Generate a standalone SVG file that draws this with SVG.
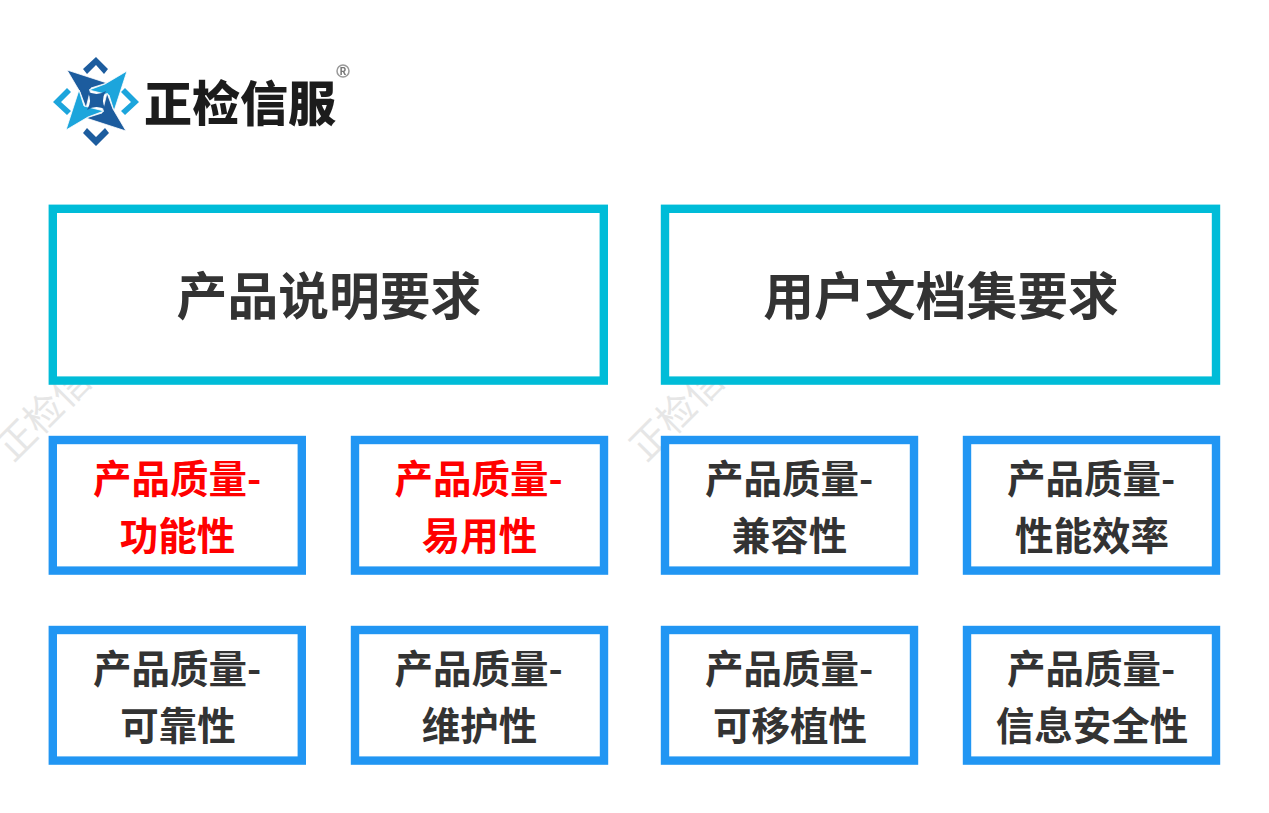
<svg xmlns="http://www.w3.org/2000/svg" width="1269" height="813" viewBox="0 0 1269 813">
<style>
text{font-family:"Noto Sans CJK SC","Noto Sans",sans-serif;font-weight:700;text-anchor:middle;fill:#333}
.big rect{fill:#fff;stroke:#00bcd8;stroke-width:8.4}
.big text{font-size:50.8px}
.small rect{fill:#fff;stroke:#2196f3;stroke-width:8.4}
.small text{font-size:38.5px}
.small text.red{fill:#f00}
.wm{font-size:38px;font-weight:400;fill:#e6e6e6;text-anchor:start}
.dk{fill:#1f5c9e}.lt{fill:#1ea5dc}
.bl{stroke:#fff;stroke-width:.8}
</style>
<defs>
<filter id="soft" x="-5%" y="-5%" width="110%" height="110%"><feGaussianBlur stdDeviation="0.7"/></filter>
<path id="blade" d="M67 70L107 83 91 88 86 108 80 92Z"/>
</defs>
<rect width="1269" height="813" fill="#fff"/>
<g id="logo">
<g id="logo-mark" filter="url(#soft)">
<path class="dk" d="M96 57L108 69 104 74 96 65 87 74 83 69Z"/>
<path class="dk" d="M96 146L83 133 87 128 96 137 105 128 109 133Z"/>
<path class="lt" d="M53 102L67 88 71 92 61 102 71 111 67 115Z"/>
<path class="lt" d="M139 102L125 88 121 92 131 102 121 111 125 115Z"/>
<use href="#blade" class="dk bl"/>
<use href="#blade" class="lt bl" transform="rotate(90 96.5 100.5)"/>
<use href="#blade" class="dk bl" transform="rotate(180 96.5 100.5)"/>
<use href="#blade" class="lt bl" transform="rotate(270 96.5 100.5)"/>
<path class="dk" d="M87 91Q96.500 97 106 91 100 100.500 106 110 96.500 104 87 110 93 100.500 87 91Z"/>
</g>
<g filter="url(#soft)">
<text x="240" y="121" style="font-size:48px;font-weight:900;fill:#1c1c1c" textLength="192" lengthAdjust="spacingAndGlyphs">正检信服</text>
<circle cx="343" cy="71" r="6" fill="#fff" stroke="#999" stroke-width="1.5"/>
<text x="343" y="75" style="font-size:10px;fill:#777">R</text>
</g>
</g>
<g id="watermarks">
<text class="wm" transform="translate(13 463) rotate(-45)">正检信</text>
<text class="wm" transform="translate(646 463) rotate(-45)">正检信</text>
</g>
<g id="header-left" class="big"><rect x="52.800" y="208.800" width="551" height="171.800"/><text x="329" y="315">产品说明要求</text></g>
<g id="header-right" class="big"><rect x="665" y="208.800" width="551" height="171.800"/><text x="941" y="315">用户文档集要求</text></g>
<g id="functional" class="small"><rect x="52.800" y="440" width="249" height="130.600"/><text class="red" x="177" y="493">产品质量-</text><text class="red" x="177.500" y="550">功能性</text></g>
<g id="usability" class="small"><rect x="355" y="440" width="249" height="130.600"/><text class="red" x="478.500" y="493">产品质量-</text><text class="red" x="479.500" y="550">易用性</text></g>
<g id="compatibility" class="small"><rect x="665" y="440" width="249" height="130.600"/><text x="789" y="493">产品质量-</text><text x="789.500" y="550">兼容性</text></g>
<g id="performance" class="small"><rect x="967" y="440" width="249" height="130.600"/><text x="1091" y="493">产品质量-</text><text x="1092" y="550">性能效率</text></g>
<g id="reliability" class="small"><rect x="52.800" y="630" width="249" height="130.600"/><text x="177" y="683">产品质量-</text><text x="178" y="740">可靠性</text></g>
<g id="maintainability" class="small"><rect x="355" y="630" width="249" height="130.600"/><text x="478.500" y="683">产品质量-</text><text x="479.500" y="740">维护性</text></g>
<g id="portability" class="small"><rect x="665" y="630" width="249" height="130.600"/><text x="789" y="683">产品质量-</text><text x="790" y="740">可移植性</text></g>
<g id="security" class="small"><rect x="967" y="630" width="249" height="130.600"/><text x="1091" y="683">产品质量-</text><text x="1092" y="740">信息安全性</text></g>
<g id="connectors"/>
</svg>
